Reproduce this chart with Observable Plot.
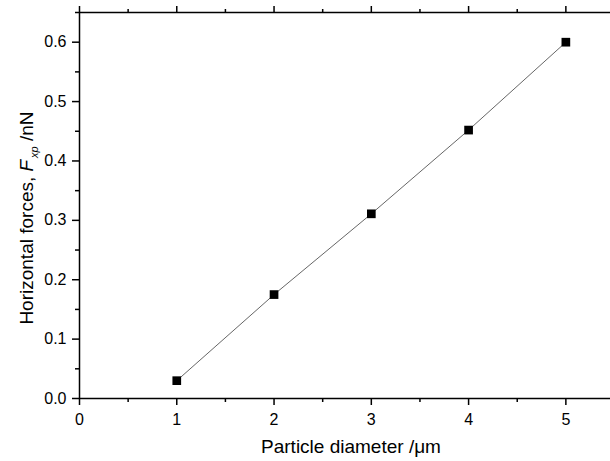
<!DOCTYPE html>
<html>
<head>
<meta charset="utf-8">
<script src="https://cdn.jsdelivr.net/npm/d3@7"></script>
<script src="https://cdn.jsdelivr.net/npm/@observablehq/plot@0.6"></script>
<style>
  html, body { margin: 0; padding: 0; background: #fff; }
  #chart svg { display: block; }
</style>
</head>
<body>
<div id="chart"></div>
<script>
// Data
const diameters = [1, 2, 3, 4, 5];              // Particle diameter /µm
const forces = [0.030, 0.175, 0.311, 0.452, 0.600]; // Horizontal force F_xp /nN

const xMajor = [0, 1, 2, 3, 4, 5];
const xMinor = [0.5, 1.5, 2.5, 3.5, 4.5, 5.5];
const yMajor = [0.0, 0.1, 0.2, 0.3, 0.4, 0.5, 0.6];
const yMinor = [0.05, 0.15, 0.25, 0.35, 0.45, 0.55, 0.65];

const xLabel = "Particle diameter /\u03bcm";
const yLabelParts = ["Horizontal forces, ", "F", "xp", " /nN"];

const data = diameters.map((d, i) => ({ d, f: forces[i] }));

const font = "Liberation Sans, Arial, Helvetica, sans-serif";
const W = 610, H = 461, mL = 79, mT = 12, mB = 63;

const plot = Plot.plot({
  width: W,
  height: H,
  marginLeft: mL,
  marginTop: mT,
  marginBottom: mB,
  marginRight: -4,
  style: { fontFamily: font, fontSize: "16px", color: "#000", background: "#fff" },
  x: { domain: [0, 5.5] },
  y: { domain: [0, 0.65] },
  marks: [
    Plot.ruleY([0], { strokeWidth: 1.5 }),
    Plot.ruleY([0.65], { strokeWidth: 1.5 }),
    Plot.ruleX([0], { strokeWidth: 1.5 }),
    Plot.axisX(xMajor, { anchor: "bottom", tickSize: 7, tickPadding: 8, strokeWidth: 1.5, fontSize: 16, label: null }),
    Plot.axisX(xMinor, { anchor: "bottom", tickSize: 4, strokeWidth: 1.5, text: null, label: null }),
    Plot.axisX(xMajor, { anchor: "top", tickSize: 7, strokeWidth: 1.5, text: null, label: null }),
    Plot.axisX(xMinor, { anchor: "top", tickSize: 4, strokeWidth: 1.5, text: null, label: null }),
    Plot.axisY(yMajor, { anchor: "left", tickSize: 7, tickPadding: 6, strokeWidth: 1.5, fontSize: 16, tickFormat: d3.format(".1f"), label: null }),
    Plot.axisY(yMinor, { anchor: "left", tickSize: 4, strokeWidth: 1.5, text: null, label: null }),
    Plot.line(data, { x: "d", y: "f", stroke: "#555", strokeWidth: 0.9 }),
    Plot.dot(data, { x: "d", y: "f", symbol: "square", fill: "#000", stroke: "none", r: 4.9 })
  ]
});

const svg = d3.select(plot);
svg.append("text")
  .attr("x", 351)
  .attr("y", 453)
  .attr("text-anchor", "middle")
  .attr("font-family", font)
  .attr("font-size", 19)
  .attr("fill", "#000")
  .text(xLabel);

const yl = svg.append("text")
  .attr("transform", "translate(33,218) rotate(-90)")
  .attr("text-anchor", "middle")
  .attr("font-family", font)
  .attr("font-size", 19)
  .attr("fill", "#000");
yl.append("tspan").text(yLabelParts[0]);
yl.append("tspan").attr("font-style", "italic").text(yLabelParts[1]);
yl.append("tspan").attr("font-style", "italic").attr("font-size", 11).attr("dx", 2).attr("dy", 5).text(yLabelParts[2]);
yl.append("tspan").attr("dy", -5).text(yLabelParts[3]);

document.getElementById("chart").appendChild(plot);
</script>
</body>
</html>
